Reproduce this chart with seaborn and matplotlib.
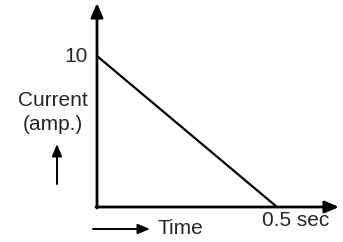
import matplotlib
matplotlib.use("Agg")
import matplotlib.pyplot as plt
import seaborn as sns
import pandas as pd

sns.set_theme(style="white")
plt.rcParams['font.family'] = ['Liberation Sans', 'DejaVu Sans']

time_vals = [0.0, 0.5]
current_vals = [10.0, 0.0]
ytick_label = "10"
xtick_label = "0.5 sec"

df = pd.DataFrame({"time": time_vals, "current": current_vals})

fig = plt.figure(figsize=(3.43, 2.42), dpi=100)
ax = fig.add_axes([0, 0, 1, 1])
px = 360.0
py = 15.1
ax.set_xlim(-97 / px, (343 - 97) / px)
ax.set_ylim(-(242 - 207) / py, 207 / py)
ax.axis("off")

sns.lineplot(data=df, x="time", y="current", color="black", linewidth=1.6, ax=ax)

arrow = dict(arrowstyle="-|>,head_length=0.7,head_width=0.3", color="black", lw=2.0,
             shrinkA=0, shrinkB=0)
ax.annotate("", xy=(0, 204 / py), xytext=(0, -1 / py), arrowprops=arrow)
ax.annotate("", xy=((339 - 97) / px, 0), xytext=(-1 / px, 0), arrowprops=arrow)

fs = 15
ax.text(-9 / px, 10, ytick_label, ha="right", va="center", fontsize=fs)
ax.text((296 - 97) / px, (207 - 220) / py, xtick_label, ha="center", va="center", fontsize=fs)
ax.text((53 - 97) / px, (207 - 100) / py, "Current", ha="center", va="center", fontsize=fs)
ax.text((53 - 97) / px, (207 - 124) / py, "(amp.)", ha="center", va="center", fontsize=fs)
small = dict(arrowstyle="-|>,head_length=0.6,head_width=0.25", color="black", lw=1.4,
             shrinkA=0, shrinkB=0)
ax.annotate("", xy=((57 - 97) / px, (207 - 144) / py), xytext=((57 - 97) / px, (207 - 184) / py),
            arrowprops=small)
ax.annotate("", xy=((150 - 97) / px, (207 - 229) / py), xytext=((93 - 97) / px, (207 - 229) / py),
            arrowprops=small)
ax.text((157 - 97) / px, (207 - 229) / py, "Time", ha="left", va="center", fontsize=fs)

fig.savefig("out.png", dpi=100)
